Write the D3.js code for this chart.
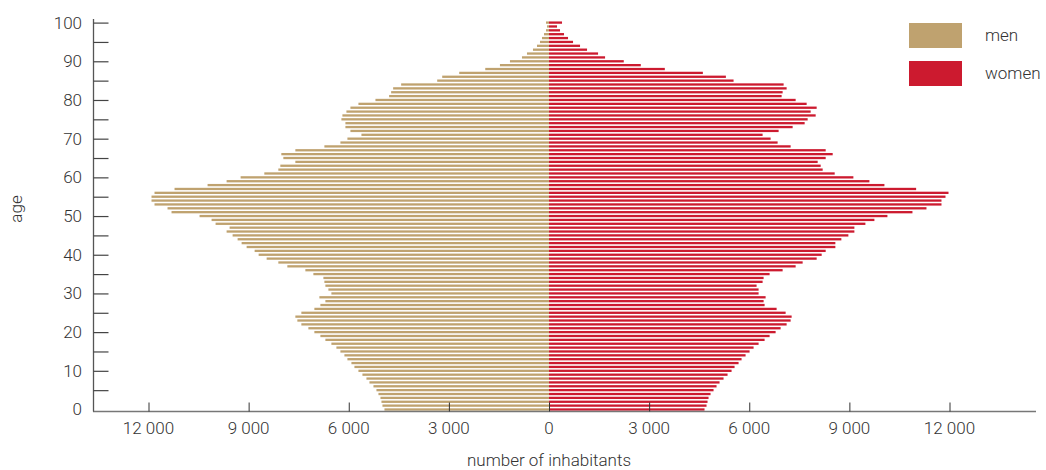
<!DOCTYPE html>
<html>
<head>
<meta charset="utf-8">
<script src="https://cdn.jsdelivr.net/npm/d3@7"></script>
<style>
  body { margin: 0; background: #fff; }
  text { font-family: Roboto, "Liberation Sans", sans-serif; font-weight: 300; fill: #333; }
</style>
</head>
<body>
<div id="chart"></div>
<script>
// ages 0..100
var ages = d3.range(0, 101);

// number of men per age, from age 0 upward
var men = [
  4930, 4990, 5020, 5050, 5110, 5170, 5260, 5380, 5470, 5590,
  5710, 5830, 5920, 6040, 6130, 6250, 6370, 6520, 6700, 6850,
  7030, 7210, 7420, 7540, 7600, 7420, 7030, 6850, 6700, 6880,
  6520, 6610, 6700, 6730, 6760, 7060, 7300, 7840, 8110, 8460,
  8700, 8820, 9060, 9210, 9330, 9480, 9660, 9570, 9990, 10110,
  10470, 11310, 11430, 11820, 11910, 11910, 11820, 11220, 10230, 9660,
  9240, 8530, 8110, 8050, 7600, 7960, 8020, 7600, 6730, 6250,
  6040, 5620, 5950, 6100, 6100, 6220, 6190, 6070, 5950, 5710,
  5200, 4790, 4730, 4670, 4430, 3350, 3200, 2690, 1910, 1470,
  1170, 810, 660, 480, 360, 270, 210, 150, 90, 60,
  90
];

// number of women per age, from age 0 upward
var women = [
  4660, 4720, 4750, 4780, 4840, 4930, 5020, 5110, 5230, 5350,
  5470, 5560, 5680, 5770, 5890, 6010, 6130, 6280, 6460, 6610,
  6790, 6940, 7120, 7240, 7270, 7090, 6820, 6460, 6430, 6490,
  6280, 6280, 6220, 6400, 6430, 6610, 7000, 7390, 7600, 8020,
  8170, 8290, 8580, 8580, 8760, 8970, 9150, 9150, 9480, 9750,
  10140, 10890, 11310, 11760, 11760, 11880, 11970, 11000, 10050, 9600,
  9120, 8560, 8200, 8140, 8050, 8290, 8500, 8290, 7240, 6850,
  6640, 6400, 6880, 7300, 7660, 7750, 7990, 7840, 8020, 7720,
  7390, 6970, 7000, 7120, 7030, 5530, 5300, 4610, 3470, 2750,
  2240, 1680, 1470, 1140, 930, 720, 570, 450, 330, 240,
  390
];

var xTicks = [-12000, -9000, -6000, -3000, 0, 3000, 6000, 9000, 12000];
var yTicks = d3.range(5, 101, 5); // no tick at 0, the x axis sits there
var yLabels = d3.range(0, 101, 10);
var seriesNames = ["men", "women"];
var colors = ["#bfa26f", "#cc1a2f"];

var width = 1046, height = 470;

var svg = d3.select("#chart")
  .append("svg")
  .attr("width", width)
  .attr("height", height);

var x = d3.scaleLinear().domain([-12000, 12000]).range([148.5, 949.5]);
var y = d3.scaleLinear().domain([0, 100]).range([409.5, 22.6]);
var barH = 2.3;
var fmt = function(v) { return d3.format(",")(Math.abs(v)).replace(/,/g, " "); };

// bars
svg.append("g")
  .selectAll("rect")
  .data(ages)
  .enter().append("rect")
  .attr("x", function(a) { return x(-men[a]); })
  .attr("y", function(a) { return y(a) - barH / 2; })
  .attr("width", function(a) { return x(0) - x(-men[a]); })
  .attr("height", barH)
  .attr("fill", colors[0]);

svg.append("g")
  .selectAll("rect")
  .data(ages)
  .enter().append("rect")
  .attr("x", x(0))
  .attr("y", function(a) { return y(a) - barH / 2; })
  .attr("width", function(a) { return x(women[a]) - x(0); })
  .attr("height", barH)
  .attr("fill", colors[1]);

// x axis
var xAxisY = 411.5;
svg.append("line")
  .attr("x1", 93).attr("x2", 1036)
  .attr("y1", xAxisY).attr("y2", xAxisY)
  .attr("stroke", "#777").attr("stroke-width", 1.5);

var xAxis = d3.axisTop(x).tickValues(xTicks).tickSize(9).tickFormat("");
svg.append("g")
  .attr("transform", "translate(0," + xAxisY + ")")
  .call(xAxis)
  .call(function(g) { g.select(".domain").remove(); })
  .call(function(g) { g.selectAll(".tick line").attr("stroke", "#333"); });

svg.append("g")
  .selectAll("text")
  .data(xTicks)
  .enter().append("text")
  .attr("x", function(d) { return x(d); })
  .attr("y", 434)
  .attr("text-anchor", "middle")
  .style("font-size", "17px")
  .text(fmt);

// y axis
svg.append("line")
  .attr("x1", 93.5).attr("x2", 93.5)
  .attr("y1", 19).attr("y2", xAxisY)
  .attr("stroke", "#555").attr("stroke-width", 1.3);

var yAxis = d3.axisRight(y).tickValues(yTicks).tickSize(15).tickFormat("");
svg.append("g")
  .attr("transform", "translate(93.5,0)")
  .call(yAxis)
  .call(function(g) { g.select(".domain").remove(); })
  .call(function(g) { g.selectAll(".tick line").attr("stroke", "#444").attr("stroke-width", 1.2); });

svg.append("g")
  .selectAll("text")
  .data(yLabels)
  .enter().append("text")
  .attr("x", 82)
  .attr("y", function(d) { return y(d); })
  .attr("dy", "0.35em")
  .attr("text-anchor", "end")
  .style("font-size", "17px")
  .text(function(d) { return d; });

// axis titles
svg.append("text")
  .attr("x", 549)
  .attr("y", 466)
  .attr("text-anchor", "middle")
  .style("font-size", "17px")
  .text("number of inhabitants");

svg.append("text")
  .attr("transform", "translate(22,209) rotate(-90)")
  .attr("text-anchor", "middle")
  .style("font-size", "17px")
  .text("age");

// legend
var legend = svg.append("g")
  .selectAll("g")
  .data(seriesNames)
  .enter().append("g")
  .attr("transform", function(d, i) { return "translate(909," + (23 + i * 38) + ")"; });

legend.append("rect")
  .attr("width", 53)
  .attr("height", 25)
  .attr("fill", function(d, i) { return colors[i]; });

legend.append("text")
  .attr("x", 76)
  .attr("y", 12.5)
  .attr("dy", "0.35em")
  .style("font-size", "17px")
  .text(function(d) { return d; });
</script>
</body>
</html>
